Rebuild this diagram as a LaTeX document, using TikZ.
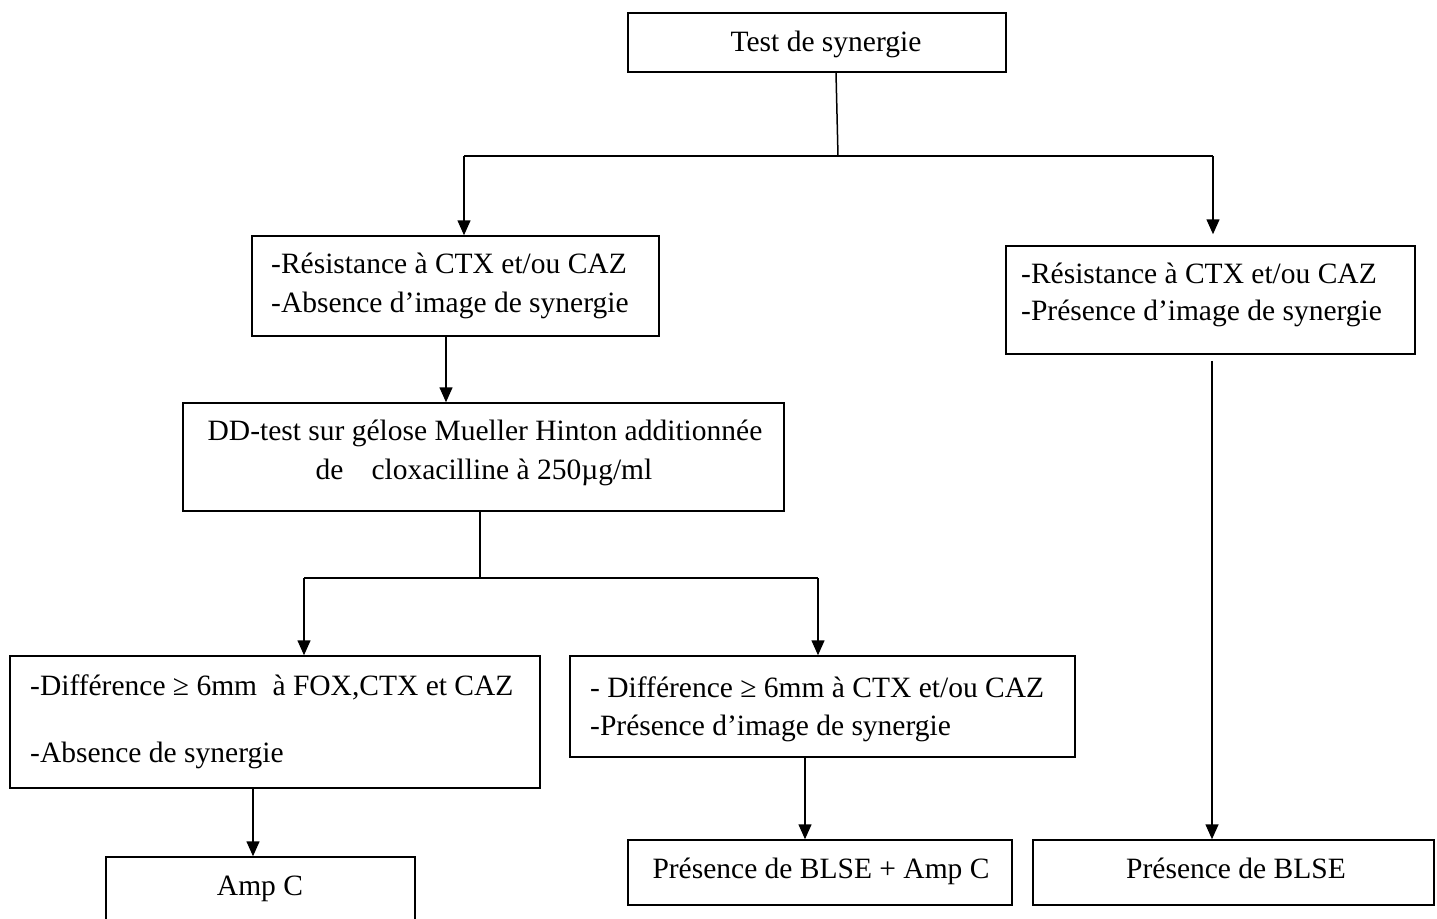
\documentclass[tikz,border=0pt]{standalone}
\usepackage{fontspec}
\setmainfont{Liberation Serif}
\usetikzlibrary{arrows.meta}
\tikzset{
  boxnode/.style={draw=black, line width=1.5pt, inner sep=0pt, rectangle},
  txt/.style={anchor=base west, inner sep=0pt},
  ctxt/.style={anchor=base, inner sep=0pt},
  conn/.style={line width=1.5pt, draw=black},
  arr/.style={conn, -{Triangle[length=15pt,width=13pt]}},
}
\begin{document}
\begin{tikzpicture}[x=1pt,y=-1pt, every node/.append style={font=\fontsize{29.5}{35}\selectfont}]
\path[use as bounding box, fill=white] (0,0) rectangle (1437,918);
\begin{scope}
\clip (0,0) rectangle (1437,918);
% boxes
\node[boxnode, minimum width=378pt, minimum height=59pt] (b1) at (817,42.5) {};
\node[boxnode, minimum width=407pt, minimum height=100pt] (b2) at (455.5,286) {};
\node[boxnode, minimum width=409pt, minimum height=108pt] (b3) at (1210.5,300) {};
\node[boxnode, minimum width=601pt, minimum height=108pt] (b4) at (483.5,457) {};
\node[boxnode, minimum width=530pt, minimum height=132pt] (b5) at (275,722) {};
\node[boxnode, minimum width=505pt, minimum height=101pt] (b6) at (822.5,706.5) {};
\node[boxnode, minimum width=309pt, minimum height=83pt] (b7) at (260.5,898.5) {};
\node[boxnode, minimum width=384pt, minimum height=65pt] (b8) at (820,872.5) {};
\node[boxnode, minimum width=401pt, minimum height=65pt] (b9) at (1233.5,872.5) {};
% texts
\node[ctxt] (t1) at (826,51) {Test de synergie};
\node[txt] (t2a) at (271,273) {-Résistance à CTX et/ou CAZ};
\node[txt] (t2b) at (271,312) {-Absence d’image de synergie};
\node[txt] (t3a) at (1021,283) {-Résistance à CTX et/ou CAZ};
\node[txt] (t3b) at (1021,320) {-Présence d’image de synergie};
\node[ctxt] (t4a) at (485,440) {DD-test sur gélose Mueller Hinton additionnée};
\node[ctxt] (t4b) at (484,479) {de\hspace{28pt}cloxacilline à 250µg/ml};
\node[txt] (t5a) at (30,695) {-Différence ≥ 6mm\hspace{8pt} à FOX,CTX et CAZ};
\node[txt] (t5b) at (30,762) {-Absence de synergie};
\node[txt] (t6a) at (590,697) {- Différence ≥ 6mm à CTX et/ou CAZ};
\node[txt] (t6b) at (590,735) {-Présence d’image de synergie};
\node[ctxt] (t7) at (260,895) {Amp C};
\node[ctxt] (t8) at (821,878) {Présence de BLSE + Amp C};
\node[ctxt] (t9) at (1236,878) {Présence de BLSE};
% junctions
\coordinate (j1) at (838,156);
\coordinate (j1l) at (464,156);
\coordinate (j1r) at (1213,156);
\coordinate (j2) at (480,578);
\coordinate (j2l) at (304,578);
\coordinate (j2r) at (818,578);
% connectors
\draw[conn] (b1.south -| 836,0) -- (j1);
\draw[conn] (j1l) -- (j1r);
\draw[arr] (j1l) -- (b2.north -| j1l);
\draw[arr, shorten >=11pt] (j1r) -- (b3.north -| j1r);
\draw[arr] (b2.south -| 446,0) -- (b4.north -| 446,0);
\draw[conn] (b4.south -| j2) -- (j2);
\draw[conn] (j2l) -- (j2r);
\draw[arr] (j2l) -- (b5.north -| j2l);
\draw[arr] (j2r) -- (b6.north -| j2r);
\draw[arr] (b5.south -| 253,0) -- (b7.north -| 253,0);
\draw[arr] (b6.south -| 805,0) -- (b8.north -| 805,0);
\draw[arr, shorten <=6pt] (b3.south -| 1212,0) -- (b9.north -| 1212,0);
\end{scope}
\end{tikzpicture}
\end{document}
